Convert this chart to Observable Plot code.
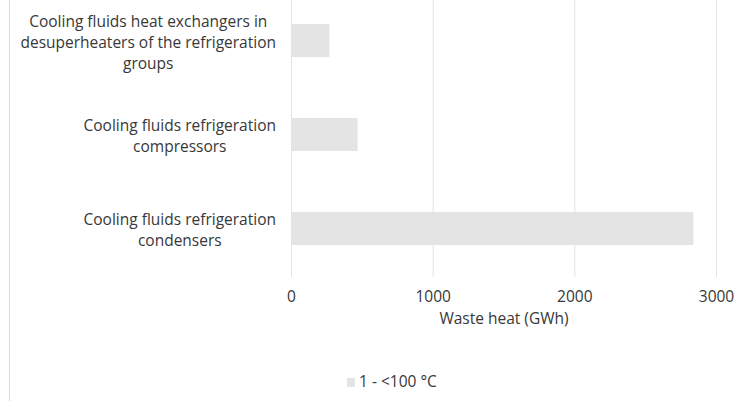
<!DOCTYPE html>
<html>
<head>
<meta charset="utf-8">
<script src="https://cdn.jsdelivr.net/npm/d3@7"></script>
<script src="https://cdn.jsdelivr.net/npm/@observablehq/plot@0.6"></script>
<style>
  html, body { margin: 0; padding: 0; background: #fff; }
  #wrap { position: relative; width: 751px; height: 401px; overflow: hidden; font-family: "Open Sans", sans-serif; color: #383838; }
  #border { position: absolute; left: 9px; top: 0; width: 1px; height: 401px; background: #d9d9d9; }
  #chart { position: absolute; left: 0; top: 0; }
  #legend { position: absolute; left: 347px; top: 370px; font-size: 15.5px; line-height: 22px; white-space: nowrap; }
  #legend .sw { display: inline-block; width: 8px; height: 9px; background: #e4e4e4; margin-right: 4px; vertical-align: 0px; }
</style>
</head>
<body>
<div id="wrap">
  <div id="border"></div>
  <div id="chart"></div>
  <div id="legend"><span class="sw"></span><span id="legtext"></span></div>
</div>
<script>
const categories = [
  "Cooling fluids heat exchangers in desuperheaters of the refrigeration groups",
  "Cooling fluids refrigeration compressors",
  "Cooling fluids refrigeration condensers"
];
const categoryLines = [
  ["Cooling fluids heat exchangers in", "desuperheaters of the refrigeration", "groups"],
  ["Cooling fluids refrigeration", "compressors"],
  ["Cooling fluids refrigeration", "condensers"]
];
const values = [270, 470, 2840];
const xTicks = [0, 1000, 2000, 3000];
const xLabel = "Waste heat (GWh)";
const seriesName = "1 - <100 °C";

(async function () {
  const fontSize = 15.5;
  const font = `${fontSize}px "Open Sans"`;
  try { await document.fonts.load(font); } catch (e) {}
  const ctx = document.createElement("canvas").getContext("2d");
  ctx.font = font;
  const blockW = categoryLines.map(lines => d3.max(lines, s => ctx.measureText(s).width));
  document.getElementById("legtext").textContent = seriesName;

  const data = categories.map((c, i) => ({category: c, value: values[i]}));
  const lineMap = new Map(categories.map((c, i) => [c, categoryLines[i].join("\n")]));

  const labelMarks = categories.map((c, i) =>
    Plot.text([c], {
      x: () => 0, y: d => d, text: d => lineMap.get(d),
      textAnchor: "middle", lineAnchor: "middle",
      dx: -(15.5 + blockW[i] / 2), lineHeight: 21 / fontSize, fontSize, fill: "currentColor"
    })
  );

  const chart = Plot.plot({
    width: 751,
    height: 350,
    marginLeft: 291,
    marginRight: 35,
    marginTop: 0,
    marginBottom: 73,
    style: {fontFamily: '"Open Sans", sans-serif', fontSize: fontSize + "px", color: "#383838", background: "transparent"},
    x: {domain: [0, 3000]},
    y: {domain: categories, range: [-7, 277], paddingInner: 0.645, paddingOuter: 0.3225, axis: null},
    marks: [
      Plot.gridX(xTicks, {stroke: "#e2e2e2", strokeOpacity: 1}),
      Plot.barX(data, {x: "value", y: "category", fill: "#e4e4e4"}),
      Plot.axisX({ticks: xTicks, tickFormat: d3.format("d"), tickSize: 0, tickPadding: 13, fontSize, label: xLabel, labelAnchor: "center", labelArrow: "none", labelOffset: 46}),
      ...labelMarks
    ]
  });
  document.getElementById("chart").appendChild(chart);
})();
</script>
</body>
</html>
